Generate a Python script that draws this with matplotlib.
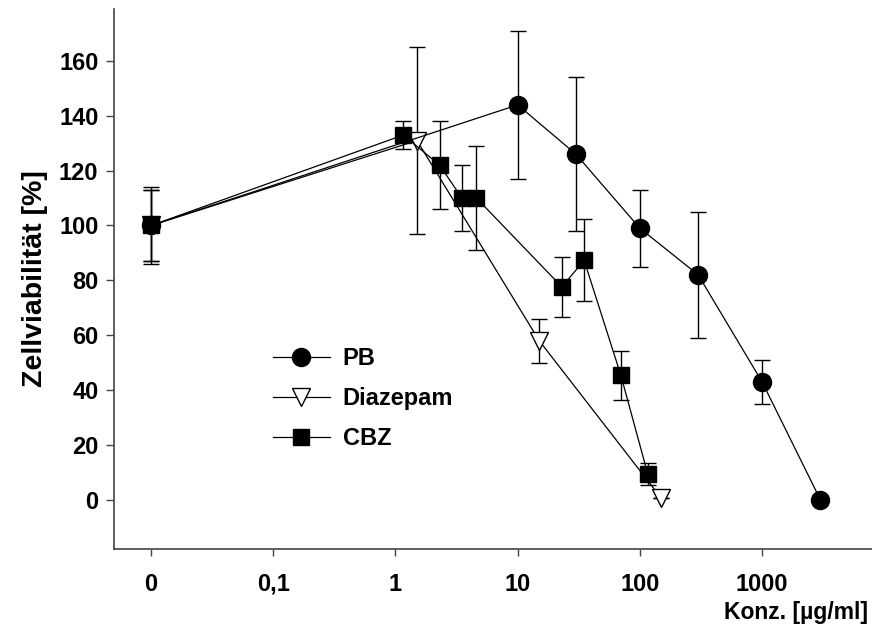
import matplotlib.pyplot as plt
from matplotlib.lines import Line2D
import numpy as np

plt.rcParams['font.family'] = ['Liberation Sans', 'DejaVu Sans']
plt.rcParams['font.weight'] = 'bold'

# concentrations in µg/ml, 0 = untreated control
pb_conc = [0, 10, 30, 100, 300, 1000, 3000]
pb_viab = [100, 144, 126, 99, 82, 43, 0]
pb_err = [14, 27, 28, 14, 23, 8, 0]

dia_conc = [0, 1.5, 15, 150]
dia_viab = [100, 131, 58, 0.5]
dia_err = [13, 34, 8, 0]

cbz_conc = [0, 1.16, 2.3, 3.5, 4.6, 23, 35, 70, 116]
cbz_viab = [100, 133, 122, 110, 110, 77.6, 87.3, 45.3, 9.4]
cbz_err = [13, 5, 16, 12, 19, 11, 15, 9, 4]

tick_vals = [0, 0.1, 1, 10, 100, 1000]
tick_labels = ['0', '0,1', '1', '10', '100', '1000']

ZERO_POS = 0.01  # where the control is placed on the log axis


def to_axis(conc):
    c = np.array(conc, dtype=float)
    return np.where(c == 0, ZERO_POS, c)


fig = plt.figure(figsize=(8.72, 6.28), dpi=100)
ax = fig.add_axes([0.1304, 0.1258, 0.8696, 0.86])

common = dict(color='black', linewidth=0.9, ecolor='black', elinewidth=1.0,
              capsize=5.8, capthick=1.0)
styles = {
    'PB': dict(marker='o', markersize=13, markerfacecolor='black', markeredgecolor='black'),
    'Diazepam': dict(marker='v', markersize=12.5, markerfacecolor='white',
                     markeredgecolor='black', markeredgewidth=1.0),
    'CBZ': dict(marker='s', markersize=11.5, markerfacecolor='black', markeredgecolor='black'),
}

ax.errorbar(to_axis(dia_conc), dia_viab, yerr=dia_err, zorder=2,
            **styles['Diazepam'], **common)
ax.errorbar(to_axis(cbz_conc), cbz_viab, yerr=cbz_err, zorder=3,
            **styles['CBZ'], **common)
ax.errorbar(to_axis(pb_conc), pb_viab, yerr=pb_err, zorder=4,
            **styles['PB'], **common)

ax.set_xscale('log')
ax.set_xlim(10 ** -2.306, 10 ** 3.9)
ax.set_ylim(-18, 179)
ax.set_xticks(to_axis(tick_vals))
ax.set_xticklabels(tick_labels)
ax.xaxis.set_minor_locator(plt.NullLocator())
ax.set_yticks(np.arange(0, 161, 20))

for s in ['top', 'right']:
    ax.spines[s].set_visible(False)
for s in ['left', 'bottom']:
    ax.spines[s].set_color('#444444')
    ax.spines[s].set_linewidth(1.2)
ax.tick_params(axis='both', direction='out', color='#444444', width=1.0,
               labelsize=17)
ax.tick_params(axis='y', length=6, pad=5)
ax.tick_params(axis='x', length=5, pad=12)

ax.set_ylabel('Zellviabilität [%]', fontsize=20.5, fontweight='bold', labelpad=8)
fig.text(0.995, 0.025, 'Konz. [µg/ml]', ha='right', va='center',
         fontsize=16.5, fontweight='bold')

# legend without error bars
names = ['PB', 'Diazepam', 'CBZ']
handles = [Line2D([], [], color='black', linewidth=0.9, **styles[n]) for n in names]
ax.legend(handles, names, loc='upper left', bbox_to_anchor=(273 / 872, 1 - 347 / 628),
          bbox_transform=fig.transFigure, frameon=False, fontsize=17,
          handlelength=2.4, handletextpad=0.55, labelspacing=0.72,
          borderpad=0, borderaxespad=0)

fig.savefig('out.png', dpi=100)
